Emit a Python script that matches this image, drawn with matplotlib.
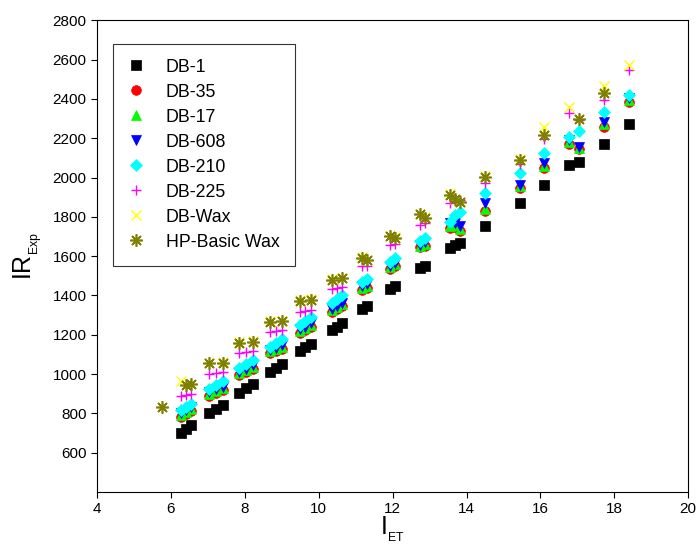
import numpy as np
import matplotlib
matplotlib.use("Agg")
import matplotlib.pyplot as plt

nan = np.nan

# I_ET of each compound (shared by all columns)
i_et = [5.76,
        6.26, 6.41, 6.55,
        7.04, 7.23, 7.40,
        7.85, 8.04, 8.21,
        8.69, 8.85, 9.01,
        9.49, 9.64, 9.79,
        10.35, 10.50, 10.64,
        11.16, 11.30,
        11.93, 12.06,
        12.74, 12.87,
        13.54, 13.68, 13.81,
        14.49, 15.44, 16.11,
        16.78, 17.05,
        17.73, 18.39]

db1 = [nan,
       700, 720, 740,
       803, 822, 845,
       905, 927, 950,
       1010, 1030, 1052,
       1115, 1138, 1155,
       1225, 1242, 1258,
       1330, 1345,
       1435, 1450,
       1540, 1552,
       1643, 1656, 1668,
       1755, 1872, 1962,
       2062, 2078,
       2170, 2272]

db35 = [nan,
        780, 795, 810,
        890, 905, 918,
        995, 1010, 1025,
        1105, 1118, 1130,
        1210, 1225, 1240,
        1315, 1330, 1345,
        1430, 1440,
        1535, 1548,
        1645, 1652,
        1743, 1750, 1728,
        1830, 1946, 2050,
        2170, 2145,
        2258, 2385]

db17 = [nan,
        790, 805, 820,
        900, 915, 928,
        1005, 1020, 1035,
        1115, 1128, 1140,
        1220, 1235, 1250,
        1325, 1340, 1355,
        1440, 1450,
        1545, 1558,
        1652, 1662,
        1752, 1760, 1738,
        1842, 1955, 2060,
        2180, 2152,
        2270, 2395]

db608 = [nan,
         800, 815, 830,
         908, 922, 935,
         1012, 1028, 1045,
         1122, 1135, 1150,
         1228, 1242, 1258,
         1332, 1348, 1362,
         1448, 1458,
         1552, 1565,
         1658, 1670,
         1768, 1770, 1751,
         1870, 1962, 2073,
         2190, 2157,
         2284, 2406]

db210 = [nan,
         815, 833, 850,
         925, 945, 965,
         1030, 1050, 1072,
         1140, 1160, 1180,
         1250, 1270, 1292,
         1360, 1380, 1400,
         1470, 1482,
         1572, 1588,
         1675, 1690,
         1776, 1810, 1827,
         1920, 2022, 2125,
         2208, 2235,
         2335, 2422]

db225 = [nan,
         890, 895, 900,
         1000, 1005, 1010,
         1105, 1110, 1115,
         1212, 1218, 1222,
         1318, 1322, 1326,
         1435, 1440, 1445,
         1548, 1552,
         1655, 1662,
         1760, 1768,
         1870, 1878, 1885,
         1971, 2068, 2195,
         2326, 2290,
         2394, 2545]

dbwax = [nan,
         967, nan, nan,
         1058, nan, 1060,
         1163, nan, 1166,
         1268, nan, 1270,
         1375, nan, 1380,
         1483, nan, 1490,
         1595, 1582,
         1703, 1697,
         1815, 1798,
         1915, 1893, 1876,
         2008, 2094, 2255,
         2357, nan,
         2465, 2572]

hp_basic = [830,
            nan, 945, 948,
            1055, nan, 1058,
            1160, nan, 1163,
            1265, nan, 1268,
            1372, nan, 1378,
            1480, nan, 1487,
            1592, 1578,
            1700, 1694,
            1812, 1795,
            1912, 1890, 1873,
            2005, 2090, 2215,
            nan, 2296,
            2432, nan]

plt.rcParams['font.family'] = ['Liberation Sans', 'DejaVu Sans']
plt.rcParams['mathtext.fontset'] = 'custom'
plt.rcParams['mathtext.rm'] = 'Liberation Sans'
plt.rcParams['mathtext.it'] = 'Liberation Sans'

fig = plt.figure(figsize=(6.98, 5.47), dpi=100)
ax = fig.add_axes([0.139, 0.1005, 0.847, 0.8625])

# label, values, marker, color, size, edge width
series = [
    ("DB-1", db1, "s", "black", 6.5, 0.5),
    ("DB-35", db35, "o", "red", 7, 0.5),
    ("DB-17", db17, "^", "#00ff00", 7.5, 0.5),
    ("DB-608", db608, "v", "blue", 7.5, 0.5),
    ("DB-210", db210, "D", "cyan", 6, 0.5),
    ("DB-225", db225, "+", "magenta", 7.5, 1.0),
    ("DB-Wax", dbwax, "x", "yellow", 7.5, 1.0),
    ("HP-Basic Wax", hp_basic, (8, 2, 0), "olive", 9, 1.2),
]

for label, vals, mk, col, ms, mew in series:
    ax.plot(i_et, vals, linestyle="none", marker=mk, color=col,
            markeredgecolor=col, markersize=ms, markeredgewidth=mew,
            label=label)

ax.set_xlim(4, 20)
ax.set_ylim(400, 2800)
ax.set_xticks(np.arange(4, 21, 2))
ax.set_yticks(np.arange(600, 2801, 200))
ax.tick_params(direction="out", length=4, width=0.8, labelsize=11,
               top=False, right=False)
for s in ax.spines.values():
    s.set_linewidth(0.8)

ax.set_xlabel(r"I$_{_{\mathrm{ET}}}$", fontsize=18, labelpad=-1)
ax.set_ylabel(r"IR$_{_{\mathrm{Exp}}}$", fontsize=18, labelpad=6)

leg = ax.legend(loc="upper left", bbox_to_anchor=(0.0266, 0.9506),
                borderaxespad=0, fontsize=12.8, frameon=True, fancybox=False,
                edgecolor="black", labelspacing=0.45, borderpad=0.85,
                handlelength=0.95, handletextpad=1.18, numpoints=1)
leg.get_frame().set_linewidth(0.8)

fig.savefig("out.png", dpi=100)
